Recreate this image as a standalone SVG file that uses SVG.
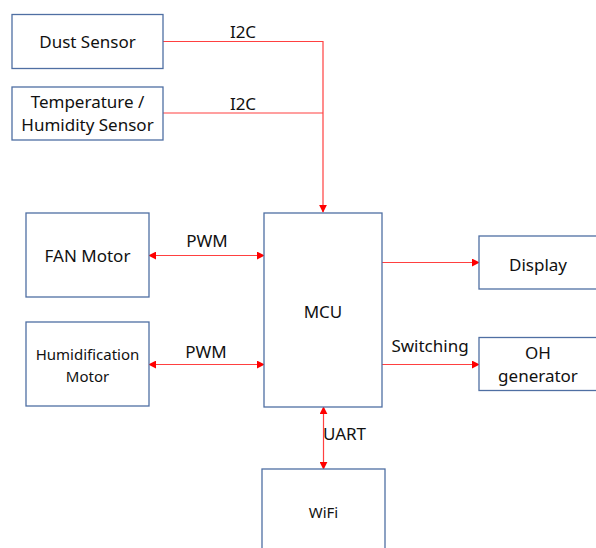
<svg xmlns="http://www.w3.org/2000/svg" width="596" height="548" viewBox="0 0 596 548">
<style>
.box{fill:#fff;stroke:#4f6fa3;stroke-width:1.3}
.t{font-family:"Noto Sans","Open Sans",sans-serif;font-size:17px;fill:#111;text-anchor:middle}
.s{font-size:15px}
.ln{stroke:#ff4040;stroke-width:1.2;fill:none}
</style>
<defs>
<marker id="ah" viewBox="0 0 10 10" refX="9" refY="5" markerWidth="8" markerHeight="8" markerUnits="userSpaceOnUse" orient="auto-start-reverse">
<path d="M0,0 L10,5 L0,10 z" fill="#ff0000"/>
</marker>
</defs>
<rect width="596" height="548" fill="#fff"/>
<g id="connectors">
<polyline class="ln" points="163,41.5 323,41.5 323,212" marker-end="url(#ah)"/>
<line class="ln" x1="163" y1="113" x2="323" y2="113"/>
<line class="ln" x1="149" y1="255.5" x2="264" y2="255.5" marker-start="url(#ah)" marker-end="url(#ah)"/>
<line class="ln" x1="149" y1="364.5" x2="264" y2="364.5" marker-start="url(#ah)" marker-end="url(#ah)"/>
<line class="ln" x1="382" y1="262.5" x2="479" y2="262.5" marker-end="url(#ah)"/>
<line class="ln" x1="382" y1="364.5" x2="479" y2="364.5" marker-end="url(#ah)"/>
<line class="ln" x1="323.5" y1="407" x2="323.5" y2="469" marker-start="url(#ah)" marker-end="url(#ah)"/>
<text class="t" x="243" y="38">I2C</text>
<text class="t" x="243" y="110">I2C</text>
<text class="t" x="207" y="247">PWM</text>
<text class="t" x="206" y="358">PWM</text>
<text class="t" x="430" y="352">Switching</text>
<text class="t" x="344.5" y="440">UART</text>
</g>
<g id="dust"><rect class="box" x="12" y="14.5" width="151" height="54"/><text class="t" x="87.5" y="48">Dust Sensor</text></g>
<g id="temp"><rect class="box" x="12" y="87" width="151" height="53"/><text class="t" x="87.5" y="108">Temperature /</text><text class="t" x="87.5" y="131">Humidity Sensor</text></g>
<g id="fan"><rect class="box" x="26" y="213" width="123" height="84"/><text class="t" x="87.5" y="262">FAN Motor</text></g>
<g id="humid"><rect class="box" x="26" y="322" width="123" height="84"/><text class="t s" x="87.5" y="360">Humidification</text><text class="t s" x="87.5" y="382">Motor</text></g>
<g id="mcu"><rect class="box" x="264" y="213" width="118" height="194"/><text class="t" x="323" y="318">MCU</text></g>
<g id="display"><rect class="box" x="479" y="236" width="118" height="53"/><text class="t" x="538" y="271">Display</text></g>
<g id="oh"><rect class="box" x="479" y="337.5" width="118" height="53"/><text class="t" x="538" y="359">OH</text><text class="t" x="538" y="382">generator</text></g>
<g id="wifi"><rect class="box" x="262" y="469" width="123" height="90"/><text class="t s" x="323.5" y="518">WiFi</text></g>
</svg>
